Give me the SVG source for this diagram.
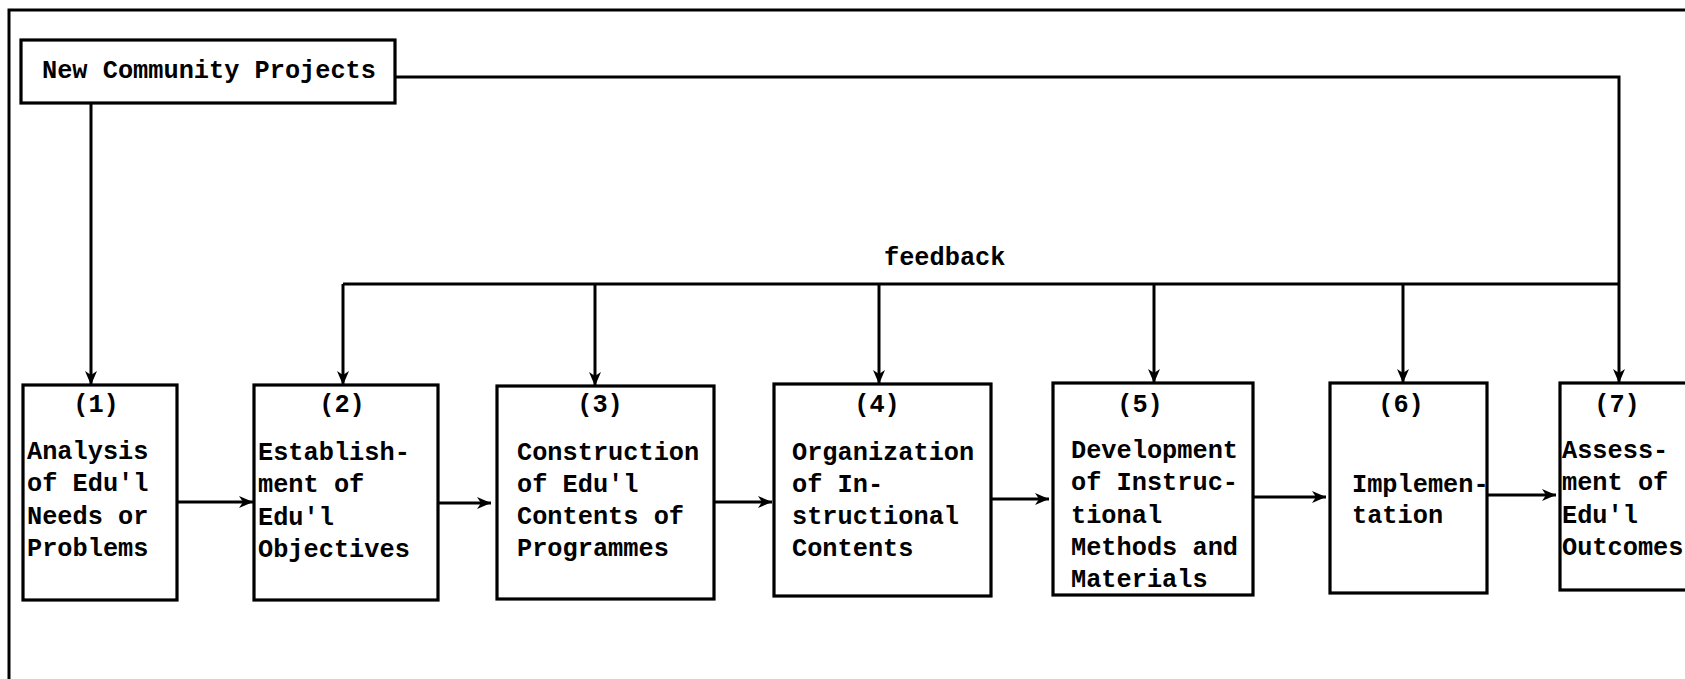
<svg xmlns="http://www.w3.org/2000/svg" width="1685" height="679" viewBox="0 0 1685 679">
<style>
  .bg { fill: #ffffff; }
  .frame { fill: none; stroke: #000; stroke-width: 3; }
  .box { fill: #ffffff; stroke: #000; stroke-width: 3.2; }
  .conn { fill: none; stroke: #000; stroke-width: 3; }
  .arr { fill: none; stroke: #000; stroke-width: 3; marker-end: url(#ah); }
  text { font-family: "Liberation Mono", "Courier New", monospace; font-size: 25.3px; font-weight: bold; fill: #000; }
  .mid { text-anchor: middle; }
</style>
<defs>
  <marker id="ah" markerWidth="15" markerHeight="13" refX="14" refY="6.5" orient="auto" markerUnits="userSpaceOnUse">
    <path d="M0,0.5 L14,6.5 L0,12.5 L4,6.5 z" fill="#000"/>
  </marker>
</defs>
<rect class="bg" x="0" y="0" width="1685" height="679"/>
<path class="frame" d="M1685,10 L9,10 L9,679"/>

<g id="connectors">
  <path class="arr" d="M395,77 L1619,77 L1619,383"/>
  <path class="arr" d="M91,103 L91,385"/>
  <path class="conn" d="M343,284 L1619,284"/>
  <path class="arr" d="M343,284 L343,385"/>
  <path class="arr" d="M595,284 L595,386"/>
  <path class="arr" d="M879,284 L879,384"/>
  <path class="arr" d="M1154,284 L1154,383"/>
  <path class="arr" d="M1403,284 L1403,383"/>
  <path class="arr" d="M177,502 L253,502"/>
  <path class="arr" d="M438,503 L491,503"/>
  <path class="arr" d="M714,502 L772,502"/>
  <path class="arr" d="M991,499 L1049,499"/>
  <path class="arr" d="M1253,497 L1326,497"/>
  <path class="arr" d="M1487,495 L1556,495"/>
  <text x="884" y="265">feedback</text>
</g>

<g id="ncp">
  <rect class="box" x="21" y="40" width="374" height="63"/>
  <text x="42" y="78">New Community Projects</text>
</g>

<g id="n1">
  <rect class="box" x="23" y="385" width="154" height="215"/>
  <text class="mid" x="96" y="412">(1)</text>
  <text x="27" y="459">Analysis</text>
  <text x="27" y="491">of Edu'l</text>
  <text x="27" y="524">Needs or</text>
  <text x="27" y="556">Problems</text>
</g>

<g id="n2">
  <rect class="box" x="254" y="385" width="184" height="215"/>
  <text class="mid" x="342" y="412">(2)</text>
  <text x="258" y="460">Establish-</text>
  <text x="258" y="492">ment of</text>
  <text x="258" y="525">Edu'l</text>
  <text x="258" y="557">Objectives</text>
</g>

<g id="n3">
  <rect class="box" x="497" y="386" width="217" height="213"/>
  <text class="mid" x="600" y="412">(3)</text>
  <text x="517" y="460">Construction</text>
  <text x="517" y="492">of Edu'l</text>
  <text x="517" y="524">Contents of</text>
  <text x="517" y="556">Programmes</text>
</g>

<g id="n4">
  <rect class="box" x="774" y="384" width="217" height="212"/>
  <text class="mid" x="877" y="412">(4)</text>
  <text x="792" y="460">Organization</text>
  <text x="792" y="492">of In-</text>
  <text x="792" y="524">structional</text>
  <text x="792" y="556">Contents</text>
</g>

<g id="n5">
  <rect class="box" x="1053" y="383" width="200" height="212"/>
  <text class="mid" x="1140" y="412">(5)</text>
  <text x="1071" y="458">Development</text>
  <text x="1071" y="490">of Instruc-</text>
  <text x="1071" y="523">tional</text>
  <text x="1071" y="555">Methods and</text>
  <text x="1071" y="587">Materials</text>
</g>

<g id="n6">
  <rect class="box" x="1330" y="383" width="157" height="210"/>
  <text class="mid" x="1401" y="412">(6)</text>
  <text x="1352" y="492">Implemen-</text>
  <text x="1352" y="523">tation</text>
</g>

<g id="n7">
  <rect class="box" x="1560" y="383" width="130" height="207"/>
  <text class="mid" x="1617" y="412">(7)</text>
  <text x="1562" y="458">Assess-</text>
  <text x="1562" y="490">ment of</text>
  <text x="1562" y="523">Edu'l</text>
  <text x="1562" y="555">Outcomes</text>
</g>
</svg>
